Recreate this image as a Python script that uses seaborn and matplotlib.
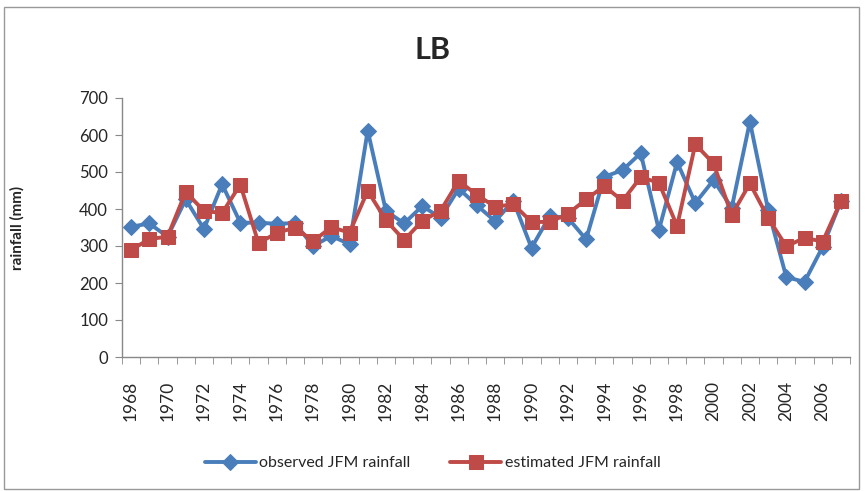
import numpy as np
import pandas as pd
import matplotlib
matplotlib.use("Agg")
import matplotlib.pyplot as plt
import seaborn as sns
from matplotlib.patches import Rectangle

years = list(range(1968, 2008))
observed = [352, 361, 325, 426, 346, 467, 363, 363, 360, 362, 300, 327, 305, 612,
            395, 361, 408, 376, 455, 410, 367, 422, 295, 381, 376, 318, 487, 505,
            551, 343, 527, 416, 478, 403, 636, 398, 216, 203, 298, 421]
estimated = [289, 319, 325, 446, 395, 389, 466, 308, 335, 350, 313, 351, 336, 449,
             370, 316, 368, 395, 476, 438, 406, 413, 365, 365, 387, 426, 462, 422,
             486, 471, 354, 575, 523, 384, 469, 376, 299, 322, 312, 421]
tick_labels = [str(y) for y in years]

sns.set_style("white")
plt.rcParams['font.family'] = ['Lato', 'DejaVu Sans']

df = pd.DataFrame({"idx": np.arange(len(years)), "year": years,
                   "observed": observed, "estimated": estimated})

fig = plt.figure(figsize=(8.65, 4.91), dpi=100)
ax = fig.add_axes([122/865, 1 - 357/491, (850-122)/865, (357-98)/491])

blue = "#4A7EBB"
red = "#BE4B48"
sns.lineplot(data=df, x="idx", y="observed", ax=ax, color=blue, lw=2.8,
             marker="D", markersize=8.5, markeredgecolor=blue, label="observed JFM rainfall")
sns.lineplot(data=df, x="idx", y="estimated", ax=ax, color=red, lw=2.8,
             marker="s", markersize=10.5, markeredgecolor=red, label="estimated JFM rainfall")

ax.set_xlim(-0.5, len(years) - 0.5)
ax.set_ylim(0, 700)
ax.set_yticks(range(0, 701, 100))
ax.tick_params(axis='y', labelsize=12, length=5, color="#888888", direction="out", left=True, pad=5)
major = np.arange(0, len(years), 2)
ax.set_xticks(major)
ax.set_xticklabels([tick_labels[i] for i in major], rotation=90, fontsize=12.5)
ax.set_xticks(np.arange(-0.5, len(years), 1), minor=True)
ax.tick_params(axis='x', which='major', length=0, pad=17)
ax.tick_params(axis='x', which='minor', length=5, color="#888888", direction="out", bottom=True)
for s in ["top", "right"]:
    ax.spines[s].set_visible(False)
for s in ["left", "bottom"]:
    ax.spines[s].set_color("#888888")
    ax.spines[s].set_linewidth(1)

ax.set_xlabel("")
ax.set_ylabel("rainfall (mm)", fontsize=11, fontweight="bold")
ax.yaxis.set_label_coords((25 - 122) / 728, 0.5)
fig.text(0.5, 1 - 50/491, "LB", ha="center", va="center", fontsize=22, fontweight="bold")

ax.legend(loc="center", bbox_to_anchor=(0.5, 1 - 463/491), bbox_transform=fig.transFigure,
          ncol=2, frameon=False, fontsize=11.5, handlelength=3.2, columnspacing=2.5,
          handletextpad=0.2)

fig.patches.append(Rectangle((4/865, 2/491), 855/865, 482/491, transform=fig.transFigure,
                             fill=False, edgecolor="#999999", lw=1))
fig.savefig("out.png", dpi=100)
